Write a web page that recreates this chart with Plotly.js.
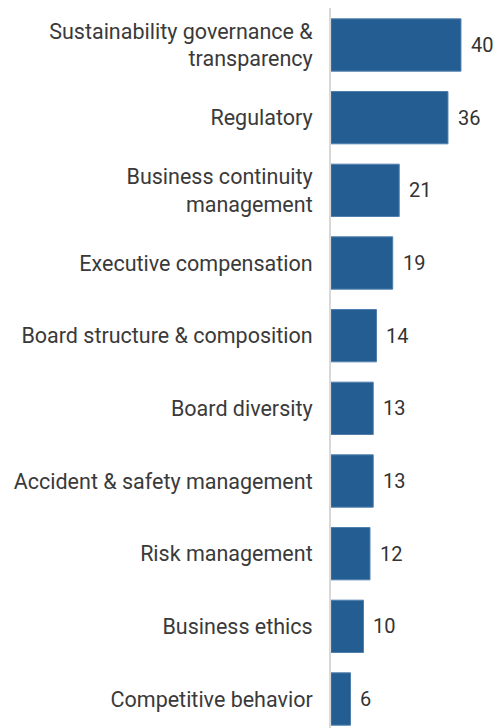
<!DOCTYPE html>
<html><head><meta charset="utf-8">
<script src="https://cdn.plot.ly/plotly-3.0.1.min.js"></script>
<style>html,body{margin:0;padding:0;background:#fff}#chart{width:498px;height:728px}</style>
</head><body><div id="chart"></div>
<script>
const categories = [
  "Sustainability governance &<br>transparency",
  "Regulatory",
  "Business continuity<br>management",
  "Executive compensation",
  "Board structure & composition",
  "Board diversity",
  "Accident & safety management",
  "Risk management",
  "Business ethics",
  "Competitive behavior"
];
const values = [40, 36, 21, 19, 14, 13, 13, 12, 10, 6];

const FONT = "Roboto, 'Liberation Sans', sans-serif";

const annotations = values.map((v, i) => ({
  x: v, y: categories[i], xref: 'x', yref: 'y',
  text: String(v), showarrow: false, xanchor: 'left', xshift: 8,
  font: {family: FONT, size: 20, color: '#333'}
}));

Plotly.newPlot('chart', [{
  type: 'bar', orientation: 'h',
  x: values, y: categories,
  marker: {color: '#245d91', line: {color: '#4f7fae', width: 1}},
  width: 0.72, hoverinfo: 'skip'
}], {
  width: 498, height: 728,
  margin: {l: 331, r: 0, t: 8, b: 0},
  paper_bgcolor: '#fff', plot_bgcolor: '#fff',
  showlegend: false,
  xaxis: {range: [0, 51.4], visible: false, fixedrange: true},
  yaxis: {
    type: 'category', range: [9.399, -0.509],
    showline: true, linecolor: '#d8d8d8', linewidth: 2,
    showgrid: false, zeroline: false, ticks: '',
    ticklabelstandoff: 12,
    tickfont: {family: FONT, size: 21.5, color: '#3a3a3a'},
    automargin: false, fixedrange: true
  },
  annotations: annotations
}, {staticPlot: true, displayModeBar: false});
</script></body></html>
